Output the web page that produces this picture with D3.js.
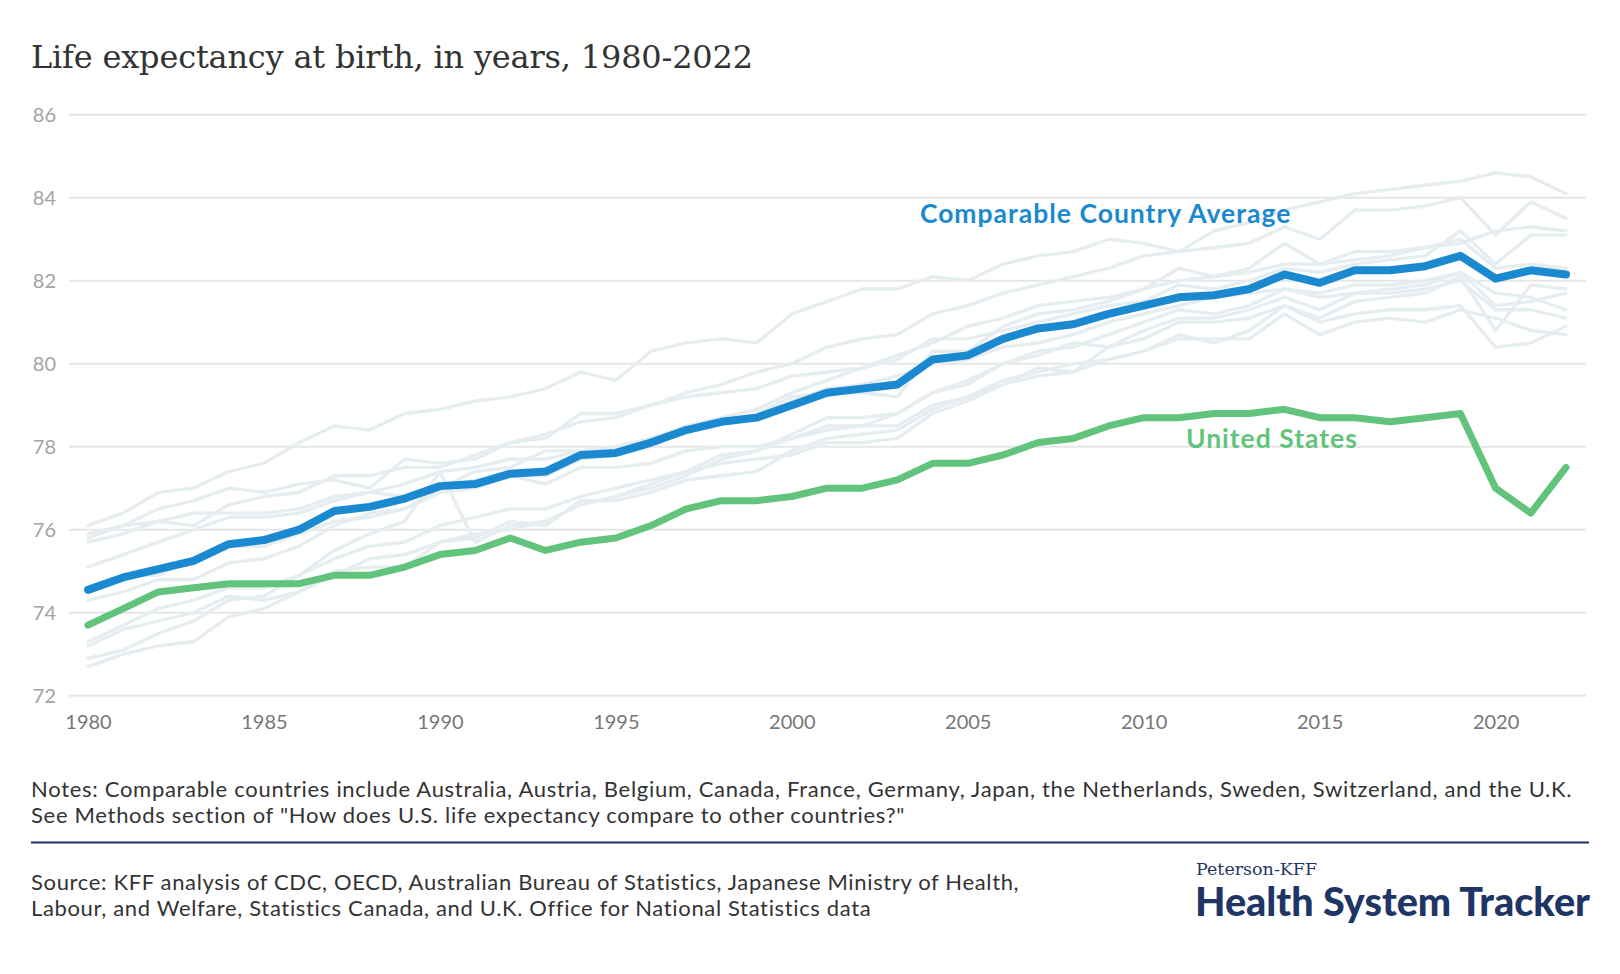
<!DOCTYPE html>
<html>
<head>
<meta charset="utf-8">
<script src="https://cdn.jsdelivr.net/npm/d3@7"></script>
<style>
  body { margin: 0; background: #fff; }
</style>
</head>
<body>
<div id="chart"></div>
<script>
// years on the x axis
var years = [1980,1981,1982,1983,1984,1985,1986,1987,1988,1989,
             1990,1991,1992,1993,1994,1995,1996,1997,1998,1999,
             2000,2001,2002,2003,2004,2005,2006,2007,2008,2009,
             2010,2011,2012,2013,2014,2015,2016,2017,2018,2019,
             2020,2021,2022];
var xTickYears = [1980,1985,1990,1995,2000,2005,2010,2015,2020];
var yTicks = [72,74,76,78,80,82,84,86];

// highlighted series
var usValues = [73.7,74.1,74.5,74.6,74.7,74.7,74.7,74.9,74.9,75.1,
                75.4,75.5,75.8,75.5,75.7,75.8,76.1,76.5,76.7,76.7,
                76.8,77.0,77.0,77.2,77.6,77.6,77.8,78.1,78.2,78.5,
                78.7,78.7,78.8,78.8,78.9,78.7,78.7,78.6,78.7,78.8,
                77.0,76.4,77.5];
var compAvg = [74.55,74.85,75.05,75.25,75.65,75.75,76.0,76.45,76.55,76.75,
               77.05,77.1,77.35,77.4,77.8,77.85,78.1,78.4,78.6,78.7,
               79.0,79.3,79.4,79.5,80.1,80.2,80.6,80.85,80.95,81.2,
               81.4,81.6,81.65,81.8,82.15,81.95,82.25,82.25,82.35,82.6,
               82.05,82.25,82.15];

// individual comparable countries (light background lines)
var japan = [76.1,76.4,76.9,77.0,77.4,77.6,78.1,78.5,78.4,78.8,
             78.9,79.1,79.2,79.4,79.8,79.6,80.3,80.5,80.6,80.5,
             81.2,81.5,81.8,81.8,82.1,82.0,82.4,82.6,82.7,83.0,
             82.9,82.7,83.2,83.4,83.7,83.9,84.1,84.2,84.3,84.4,
             84.6,84.5,84.1];
var switzerland = [75.7,75.9,76.2,76.1,76.6,76.8,76.9,77.3,77.3,77.5,
                   77.5,77.8,78.1,78.3,78.6,78.7,79.0,79.3,79.5,79.8,
                   80.0,80.4,80.6,80.7,81.2,81.4,81.7,81.9,82.1,82.3,
                   82.6,82.7,82.8,82.9,83.3,83.0,83.7,83.7,83.8,84.0,
                   83.1,83.9,83.5];
var australia = [74.6,74.9,74.9,75.3,75.6,75.6,75.9,76.2,76.3,76.5,
                 77.0,77.4,77.5,77.9,77.9,78.0,78.2,78.5,78.7,78.9,
                 79.3,79.6,79.9,80.2,80.5,80.9,81.1,81.4,81.5,81.6,
                 81.8,82.0,82.1,82.2,82.4,82.4,82.5,82.6,82.8,82.9,
                 83.2,83.3,83.2];
var sweden = [75.8,76.1,76.5,76.7,77.0,76.9,77.1,77.2,77.0,77.7,
              77.6,77.7,78.1,78.2,78.8,78.8,79.0,79.2,79.3,79.4,
              79.7,79.8,79.9,80.1,80.6,80.6,80.8,81.0,81.2,81.4,
              81.5,81.9,81.8,82.0,82.3,82.2,82.4,82.5,82.6,83.2,
              82.4,83.1,83.1];
var france = [74.3,74.5,74.8,74.8,75.2,75.3,75.6,76.1,76.4,76.5,
              76.9,77.0,77.3,77.3,77.7,77.8,78.0,78.4,78.6,78.8,
              79.2,79.3,79.3,79.2,80.3,80.3,80.9,81.2,81.3,81.5,
              81.8,82.3,82.1,82.3,82.9,82.4,82.7,82.7,82.8,83.0,
              82.3,82.4,82.3];
var canada = [75.1,75.4,75.7,76.0,76.3,76.3,76.4,76.7,76.9,77.1,
              77.4,77.5,77.7,77.7,77.9,78.0,78.2,78.4,78.6,78.7,
              79.1,79.4,79.5,79.7,80.0,80.1,80.4,80.5,80.7,81.0,
              81.2,81.4,81.6,81.7,81.8,81.7,81.9,81.9,82.0,82.2,
              81.7,81.6,81.3];
var netherlands = [75.9,76.1,76.2,76.4,76.4,76.4,76.5,76.8,76.9,76.8,
                   77.0,77.2,77.3,77.1,77.5,77.5,77.6,77.9,78.0,78.0,
                   78.2,78.4,78.5,78.8,79.3,79.6,80.0,80.3,80.4,80.7,
                   81.0,81.3,81.2,81.4,81.8,81.6,81.7,81.8,81.9,82.2,
                   81.4,81.5,81.7];
var belgium = [73.3,73.7,74.1,74.3,74.6,74.6,74.9,75.3,75.6,75.7,
               76.1,76.3,76.5,76.5,76.8,77.0,77.2,77.4,77.6,77.7,
               77.8,78.1,78.1,78.2,78.8,79.1,79.5,79.9,79.8,80.1,
               80.3,80.7,80.5,80.8,81.4,81.1,81.5,81.6,81.7,82.1,
               80.8,81.9,81.8];
var austria = [72.7,73.0,73.2,73.3,73.9,74.1,74.5,74.9,75.3,75.4,
               75.7,75.9,76.0,76.2,76.6,76.8,77.1,77.4,77.8,77.9,
               78.3,78.7,78.7,78.8,79.3,79.5,80.0,80.2,80.5,80.4,
               80.8,81.1,81.1,81.3,81.6,81.3,81.7,81.7,81.8,82.0,
               81.3,81.3,81.1];
var germany = [72.9,73.1,73.5,73.8,74.3,74.4,74.9,75.5,75.9,76.2,
               77.4,75.7,76.1,76.2,76.6,76.8,77.0,77.3,77.7,77.9,
               78.2,78.5,78.5,78.5,79.0,79.2,79.6,79.8,80.0,80.1,
               80.3,80.6,80.6,80.6,81.2,80.7,81.0,81.1,81.0,81.3,
               81.1,80.8,80.7];
var uk = [73.2,73.6,73.8,74.0,74.4,74.3,74.5,75.0,75.1,75.1,
          75.7,75.8,76.2,76.1,76.7,76.7,76.9,77.2,77.3,77.4,
          77.9,78.2,78.3,78.4,78.9,79.2,79.5,79.7,79.8,80.4,
          80.6,81.0,81.0,81.1,81.4,81.0,81.2,81.3,81.3,81.4,
          80.4,80.5,80.9];

var countries = [australia, austria, belgium, canada, france, germany,
                 japan, netherlands, sweden, switzerland, uk];

var W = 1620, H = 974;
var svg = d3.select("#chart").append("svg")
    .attr("width", W)
    .attr("height", H)
    .style("font-family", "Lato, 'Open Sans', sans-serif");

var x = d3.scaleLinear().domain([1980, 2022]).range([88, 1566]);
var y = d3.scaleLinear().domain([72, 86]).range([695.7, 114.7]);

// title
svg.append("text")
    .attr("x", 31).attr("y", 68)
    .style("font-family", "'DejaVu Serif', 'Liberation Serif', serif")
    .style("font-size", "32px")
    .attr("textLength", 722)
    .attr("lengthAdjust", "spacing")
    .attr("fill", "#333")
    .text("Life expectancy at birth, in years, 1980-2022");

// horizontal grid
svg.append("g").selectAll("line")
    .data(yTicks)
  .enter().append("line")
    .attr("x1", 69).attr("x2", 1586)
    .attr("y1", d => y(d)).attr("y2", d => y(d))
    .attr("stroke", "#e6e6e6")
    .attr("stroke-width", 2);

// y axis labels
var yAxis = svg.append("g")
    .attr("transform", "translate(56,0)")
    .call(d3.axisLeft(y).tickValues(yTicks).tickSize(0).tickPadding(0));
yAxis.select(".domain").remove();
yAxis.selectAll("text")
    .style("font-family", "Lato, sans-serif")
    .style("font-size", "20px")
    .attr("fill", "#a3a3a3");

// x axis labels
var xAxis = svg.append("g")
    .attr("transform", "translate(0," + y(72) + ")")
    .call(d3.axisBottom(x).tickValues(xTickYears).tickFormat(d3.format("d"))
          .tickSize(0).tickPadding(19));
xAxis.select(".domain").remove();
xAxis.selectAll("text")
    .style("font-family", "Lato, sans-serif")
    .style("font-size", "20px")
    .attr("fill", "#777");

var line = d3.line()
    .x(function(d, i) { return x(years[i]); })
    .y(function(d) { return y(d); });

// background country lines
svg.append("g").selectAll("path")
    .data(countries)
  .enter().append("path")
    .attr("d", line)
    .attr("fill", "none")
    .attr("stroke", "#e6edf0")
    .attr("stroke-width", 3.3)
    .attr("stroke-linejoin", "round")
    .attr("stroke-linecap", "round");

// comparable country average
svg.append("path")
    .datum(compAvg)
    .attr("d", line)
    .attr("fill", "none")
    .attr("stroke", "#1a89cf")
    .attr("stroke-width", 8)
    .attr("stroke-linejoin", "round")
    .attr("stroke-linecap", "round");

// united states
svg.append("path")
    .datum(usValues)
    .attr("d", line)
    .attr("fill", "none")
    .attr("stroke", "#62c47c")
    .attr("stroke-width", 7)
    .attr("stroke-linejoin", "round")
    .attr("stroke-linecap", "round");

// series labels
svg.append("text")
    .attr("x", x(2003.64)).attr("y", y(83.39))
    .style("font-size", "26.5px").style("font-weight", 700)
    .style("letter-spacing", "1px")
    .attr("fill", "#1a89cf")
    .text("Comparable Country Average");
svg.append("text")
    .attr("x", x(2011.2)).attr("y", y(77.97))
    .style("font-size", "26.5px").style("font-weight", 700)
    .style("letter-spacing", "1px")
    .attr("fill", "#62c47c")
    .text("United States");

// notes and source
var notes = [
  "Notes: Comparable countries include Australia, Austria, Belgium, Canada, France, Germany, Japan, the Netherlands, Sweden, Switzerland, and the U.K.",
  "See Methods section of \"How does U.S. life expectancy compare to other countries?\""
];
var source = [
  "Source: KFF analysis of CDC, OECD, Australian Bureau of Statistics, Japanese Ministry of Health,",
  "Labour, and Welfare, Statistics Canada, and U.K. Office for National Statistics data"
];
svg.append("g").selectAll("text")
    .data(notes)
  .enter().append("text")
    .attr("x", 31).attr("y", (d, i) => 797 + i * 26)
    .style("font-size", "22px")
    .style("letter-spacing", "0.7px")
    .attr("fill", "#333")
    .text(d => d);

svg.append("line")
    .attr("x1", 31).attr("x2", 1589)
    .attr("y1", 842.5).attr("y2", 842.5)
    .attr("stroke", "#1f3566")
    .attr("stroke-width", 2);

svg.append("g").selectAll("text")
    .data(source)
  .enter().append("text")
    .attr("x", 31).attr("y", (d, i) => 890 + i * 26)
    .style("font-size", "22px")
    .style("letter-spacing", "0.65px")
    .attr("fill", "#333")
    .text(d => d);

// logo
svg.append("text")
    .attr("x", 1196).attr("y", 875)
    .style("font-family", "'DejaVu Serif', 'Liberation Serif', serif")
    .style("font-size", "17.5px")
    .attr("fill", "#1f3566")
    .text("Peterson-KFF");

svg.append("text")
    .attr("x", 1195).attr("y", 916)
    .style("font-size", "39.5px").style("font-weight", 900)
    .attr("fill", "#1f3566")
    .text("Health System Tracker");
</script>
</body>
</html>
